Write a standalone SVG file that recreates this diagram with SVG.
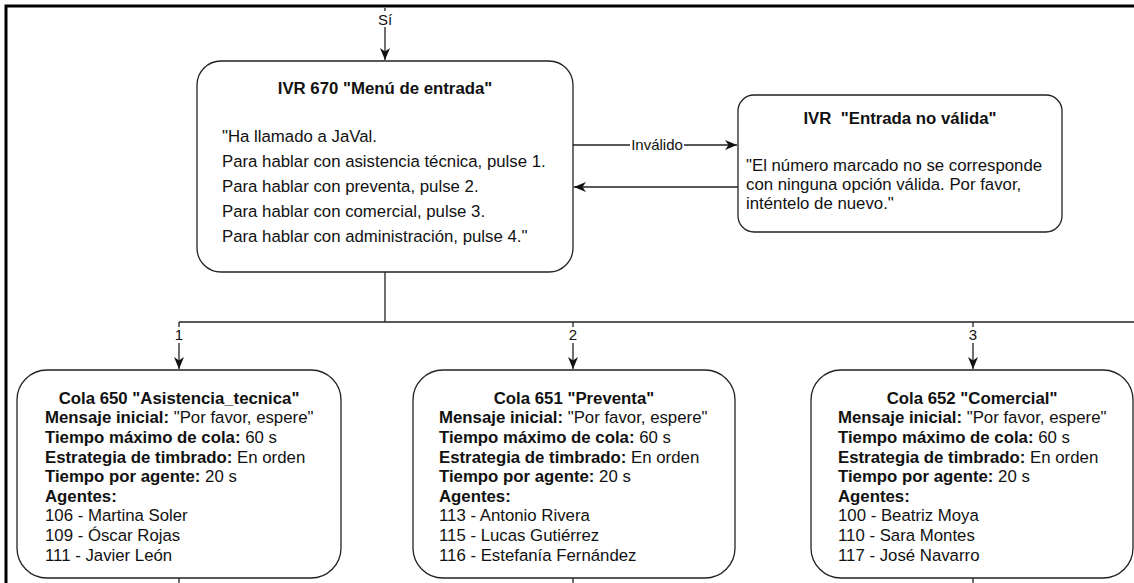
<svg xmlns="http://www.w3.org/2000/svg" width="1134" height="583" viewBox="0 0 1134 583">
  <style>
    text { font-family: "Liberation Sans", Arial, Helvetica, sans-serif; fill: #111; }
    .t { font-size: 16.8px; }
    .b { font-weight: bold; }
    .lbl { font-size: 15px; text-anchor: middle; }
    .box { fill: #fff; stroke: #222; stroke-width: 1.3; }
    .wire { fill: none; stroke: #222; stroke-width: 1.3; }
    .frame { fill: none; stroke: #000; stroke-width: 3; }
  </style>
  <defs>
    <marker id="arrow" markerUnits="userSpaceOnUse" markerWidth="14" markerHeight="12" refX="13" refY="6" orient="auto">
      <path d="M1,1 L13,6 L1,11 L4.5,6 Z" fill="#111"/>
    </marker>
  </defs>

  <rect width="1134" height="583" fill="#fff"/>
  <path class="frame" d="M6,583 V6 H1134"/>

  <g id="connectors">
    <path class="wire" d="M385,8 V60" marker-end="url(#arrow)"/>
    <rect x="376" y="11" width="18" height="16" fill="#fff"/>
    <text class="lbl" x="385" y="25">Sí</text>

    <path class="wire" d="M573,145 H737" marker-end="url(#arrow)"/>
    <rect x="630" y="137" width="54" height="16" fill="#fff"/>
    <text class="lbl" x="657" y="150">Inválido</text>

    <path class="wire" d="M738,187 H574" marker-end="url(#arrow)"/>

    <path class="wire" d="M385,272 V322"/>
    <path class="wire" d="M179,322 H1134"/>

    <path class="wire" d="M179,322 V369" marker-end="url(#arrow)"/>
    <path class="wire" d="M573,322 V369" marker-end="url(#arrow)"/>
    <path class="wire" d="M973,322 V369" marker-end="url(#arrow)"/>
    <rect x="172" y="327" width="14" height="16" fill="#fff"/>
    <rect x="566" y="327" width="14" height="16" fill="#fff"/>
    <rect x="966" y="327" width="14" height="16" fill="#fff"/>
    <text class="lbl" x="179" y="340">1</text>
    <text class="lbl" x="573" y="340">2</text>
    <text class="lbl" x="973" y="340">3</text>

    <path class="wire" d="M179,578 V583"/>
    <path class="wire" d="M573,578 V583"/>
    <path class="wire" d="M973,578 V583"/>
  </g>

  <g id="ivr-menu">
    <rect class="box" x="197" y="61" width="376" height="211" rx="24" ry="24"/>
    <text class="t b" x="385" y="94" text-anchor="middle">IVR 670 "Menú de entrada"</text>
    <text class="t" x="222" y="142">"Ha llamado a JaVal.</text>
    <text class="t" x="222" y="167">Para hablar con asistencia técnica, pulse 1.</text>
    <text class="t" x="222" y="192">Para hablar con preventa, pulse 2.</text>
    <text class="t" x="222" y="217">Para hablar con comercial, pulse 3.</text>
    <text class="t" x="222" y="242">Para hablar con administración, pulse 4."</text>
  </g>

  <g id="ivr-invalid">
    <rect class="box" x="738" y="95" width="324" height="137" rx="16" ry="16"/>
    <text class="t b" x="900" y="124" text-anchor="middle">IVR &#160;"Entrada no válida"</text>
    <text class="t" x="746" y="171">"El número marcado no se corresponde</text>
    <text class="t" x="746" y="190">con ninguna opción válida. Por favor,</text>
    <text class="t" x="746" y="209">inténtelo de nuevo."</text>
  </g>

  <g id="cola-650">
    <rect class="box" x="17" y="370" width="324" height="208" rx="30" ry="30"/>
    <text class="t b" x="179" y="404" text-anchor="middle">Cola 650 "Asistencia_tecnica"</text>
    <text class="t" x="45" y="423"><tspan class="b">Mensaje inicial:</tspan> "Por favor, espere"</text>
    <text class="t" x="45" y="443"><tspan class="b">Tiempo máximo de cola:</tspan> 60 s</text>
    <text class="t" x="45" y="463"><tspan class="b">Estrategia de timbrado:</tspan> En orden</text>
    <text class="t" x="45" y="482"><tspan class="b">Tiempo por agente:</tspan> 20 s</text>
    <text class="t b" x="45" y="502">Agentes:</text>
    <text class="t" x="45" y="521">106 - Martina Soler</text>
    <text class="t" x="45" y="541">109 - Óscar Rojas</text>
    <text class="t" x="45" y="561">111 - Javier León</text>
  </g>

  <g id="cola-651">
    <rect class="box" x="413" y="370" width="322" height="208" rx="30" ry="30"/>
    <text class="t b" x="574" y="404" text-anchor="middle">Cola 651 "Preventa"</text>
    <text class="t" x="439" y="423"><tspan class="b">Mensaje inicial:</tspan> "Por favor, espere"</text>
    <text class="t" x="439" y="443"><tspan class="b">Tiempo máximo de cola:</tspan> 60 s</text>
    <text class="t" x="439" y="463"><tspan class="b">Estrategia de timbrado:</tspan> En orden</text>
    <text class="t" x="439" y="482"><tspan class="b">Tiempo por agente:</tspan> 20 s</text>
    <text class="t b" x="439" y="502">Agentes:</text>
    <text class="t" x="439" y="521">113 - Antonio Rivera</text>
    <text class="t" x="439" y="541">115 - Lucas Gutiérrez</text>
    <text class="t" x="439" y="561">116 - Estefanía Fernández</text>
  </g>

  <g id="cola-652">
    <rect class="box" x="811" y="370" width="322" height="208" rx="30" ry="30"/>
    <text class="t b" x="972" y="404" text-anchor="middle">Cola 652 "Comercial"</text>
    <text class="t" x="838" y="423"><tspan class="b">Mensaje inicial:</tspan> "Por favor, espere"</text>
    <text class="t" x="838" y="443"><tspan class="b">Tiempo máximo de cola:</tspan> 60 s</text>
    <text class="t" x="838" y="463"><tspan class="b">Estrategia de timbrado:</tspan> En orden</text>
    <text class="t" x="838" y="482"><tspan class="b">Tiempo por agente:</tspan> 20 s</text>
    <text class="t b" x="838" y="502">Agentes:</text>
    <text class="t" x="838" y="521">100 - Beatriz Moya</text>
    <text class="t" x="838" y="541">110 - Sara Montes</text>
    <text class="t" x="838" y="561">117 - José Navarro</text>
  </g>
</svg>
